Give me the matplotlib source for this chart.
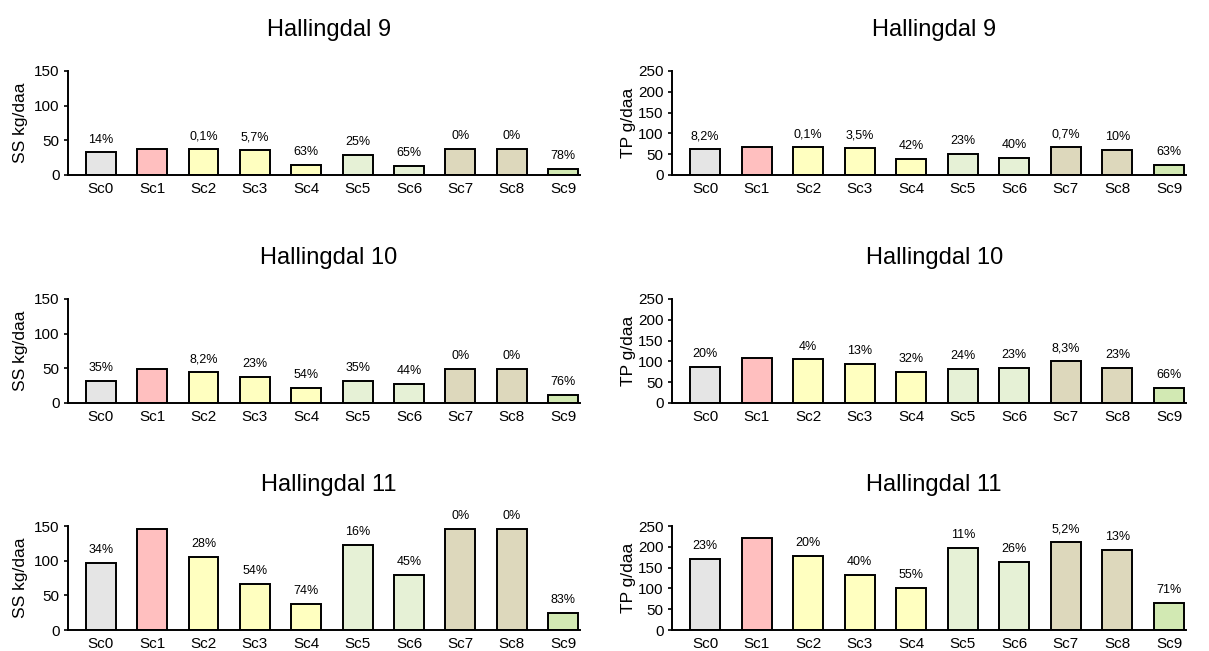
import matplotlib
matplotlib.use("Agg")
import matplotlib.pyplot as plt

plt.rcParams["font.family"] = ["Liberation Sans", "DejaVu Sans"]

SCENARIOS = ["Sc0", "Sc1", "Sc2", "Sc3", "Sc4", "Sc5", "Sc6", "Sc7", "Sc8", "Sc9"]
COLORS = ["#E5E5E5", "#FFBFBF", "#FFFFC0", "#FFFFC0", "#FFFFC0",
          "#E6F1D6", "#E6F1D6", "#DDD8BC", "#DDD8BC", "#D2E9B3"]

TITLES = ["Hallingdal 9", "Hallingdal 10", "Hallingdal 11"]

SS_H9 = [32.5, 37.5, 37.5, 35.5, 13.8, 28.3, 13.2, 37.5, 37.5, 8.3]
SS_H10 = [31.5, 48.4, 44.5, 37.3, 22.3, 31.5, 27.3, 48.4, 48.4, 11.6]
SS_H11 = [96, 146, 105, 67, 38, 122.5, 80, 146, 146, 24.5]

TP_H9 = [61.5, 67, 67, 64.7, 39, 51.6, 40.2, 66.5, 60.3, 24.8]
TP_H10 = [87, 109, 104.6, 94.8, 74, 82.8, 83.9, 100, 83.9, 37]
TP_H11 = [171, 222, 177.6, 133, 100, 197.6, 164, 210.5, 193, 65]

SS_LABELS = [
    ["14%", "", "0,1%", "5,7%", "63%", "25%", "65%", "0%", "0%", "78%"],
    ["35%", "", "8,2%", "23%", "54%", "35%", "44%", "0%", "0%", "76%"],
    ["34%", "", "28%", "54%", "74%", "16%", "45%", "0%", "0%", "83%"],
]
TP_LABELS = [
    ["8,2%", "", "0,1%", "3,5%", "42%", "23%", "40%", "0,7%", "10%", "63%"],
    ["20%", "", "4%", "13%", "32%", "24%", "23%", "8,3%", "23%", "66%"],
    ["23%", "", "20%", "40%", "55%", "11%", "26%", "5,2%", "13%", "71%"],
]

SS_TICKS = [0, 50, 100, 150]
TP_TICKS = [0, 50, 100, 150, 200, 250]

W, H = 1209, 651
ROW_BOTTOMS = [175, 403, 630]
AX_H = 104
COLS = [(68, 512), (672, 514)]


def draw_panel(fig, rect, values, labels, ticks, ylabel, title, ylab_x):
    ax = fig.add_axes(rect)
    x = range(len(SCENARIOS))
    ax.bar(x, values, width=0.58, color=COLORS, edgecolor="black",
           linewidth=1.4, zorder=2)
    for xi, v, lab in zip(x, values, labels):
        if lab:
            ax.annotate(lab, (xi, v), xytext=(0, 5), textcoords="offset points",
                        ha="center", va="bottom", fontsize=9)
    ax.set_xlim(-0.64, 9.33)
    ax.set_ylim(0, ticks[-1])
    ax.set_yticks(ticks)
    ax.set_xticks(list(x))
    ax.set_xticklabels(SCENARIOS)
    ax.tick_params(axis="x", length=0, pad=5, labelsize=11)
    ax.tick_params(axis="y", length=3, width=1.2, pad=3, labelsize=11)
    for side in ("top", "right"):
        ax.spines[side].set_visible(False)
    for side in ("left", "bottom"):
        ax.spines[side].set_linewidth(1.4)
    ax.set_ylabel(ylabel, fontsize=12.5)
    ax.yaxis.set_label_coords(ylab_x, 0.5)
    ax.set_title(title, fontsize=17, pad=25, x=0.51)
    return ax


def main():
    fig = plt.figure(figsize=(W / 100, H / 100), dpi=100)
    ss = [SS_H9, SS_H10, SS_H11]
    tp = [TP_H9, TP_H10, TP_H11]
    for r in range(3):
        bottom = (H - ROW_BOTTOMS[r]) / H
        height = AX_H / H
        lx, lw = COLS[0]
        rx, rw = COLS[1]
        draw_panel(fig, [lx / W, bottom, lw / W, height], ss[r], SS_LABELS[r],
                   SS_TICKS, "SS kg/daa", TITLES[r], -0.078)
        draw_panel(fig, [rx / W, bottom, rw / W, height], tp[r], TP_LABELS[r],
                   TP_TICKS, "TP g/daa", TITLES[r], -0.07)
    fig.savefig("out.png", dpi=100)


if __name__ == "__main__":
    main()
